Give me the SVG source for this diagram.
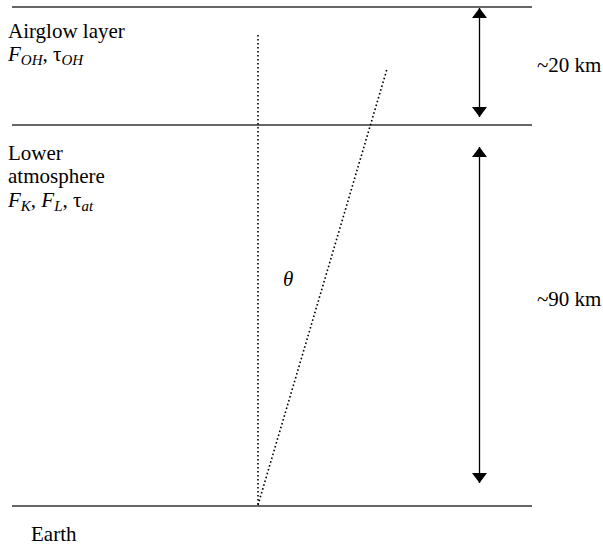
<svg xmlns="http://www.w3.org/2000/svg" width="603" height="545" viewBox="0 0 603 545">
<style>
text { font-family: "Liberation Serif", "Times New Roman", serif; font-size: 21px; fill: #000; }
.it { font-style: italic; }
.sub { font-size: 15px; font-style: italic; }
.layer { stroke: #333; stroke-width: 1.5; fill: none; }
.dot { stroke: #000; stroke-width: 1.6; stroke-dasharray: 1.6 2.4; fill: none; }
.dim { stroke: #000; stroke-width: 1.3; fill: none; marker-start: url(#ah); marker-end: url(#ah); }
</style>
<defs>
<marker id="ah" viewBox="0 0 10 10" refX="10" refY="5" markerWidth="10" markerHeight="15" markerUnits="userSpaceOnUse" orient="auto-start-reverse" preserveAspectRatio="none">
<path d="M0,0 L10,5 L0,10 Z" fill="#000"/>
</marker>
</defs>
<g id="layers">
<line class="layer" x1="12" y1="7" x2="532" y2="7"/>
<line class="layer" x1="12" y1="125" x2="532" y2="125"/>
<line class="layer" x1="12" y1="506" x2="532" y2="506"/>
</g>
<g id="airglow">
<text x="8" y="38">Airglow layer</text>
<text x="8" y="61"><tspan class="it">F</tspan><tspan class="sub" dy="4">OH</tspan><tspan dy="-4">, τ</tspan><tspan class="sub" dy="4">OH</tspan></text>
</g>
<g id="lower">
<text x="8" y="160">Lower</text>
<text x="8" y="183">atmosphere</text>
<text x="8" y="207"><tspan class="it">F</tspan><tspan class="sub" dy="4">K</tspan><tspan dy="-4">, </tspan><tspan class="it">F</tspan><tspan class="sub" dy="4">L</tspan><tspan dy="-4">, τ</tspan><tspan class="sub" dy="4">at</tspan></text>
</g>
<g id="earth">
<text x="31" y="541">Earth</text>
</g>
<g id="theta">
<text class="it" x="283" y="286">θ</text>
</g>
<g id="connectors">
<line class="dot" x1="258" y1="35" x2="258" y2="505"/>
<line class="dot" x1="258" y1="505" x2="387" y2="69"/>
<line class="dim" x1="479.5" y1="8" x2="479.5" y2="117"/>
<line class="dim" x1="479.5" y1="147" x2="479.5" y2="483"/>
</g>
<g id="dims">
<text x="537" y="72">~20 km</text>
<text x="537" y="306">~90 km</text>
</g>
</svg>
